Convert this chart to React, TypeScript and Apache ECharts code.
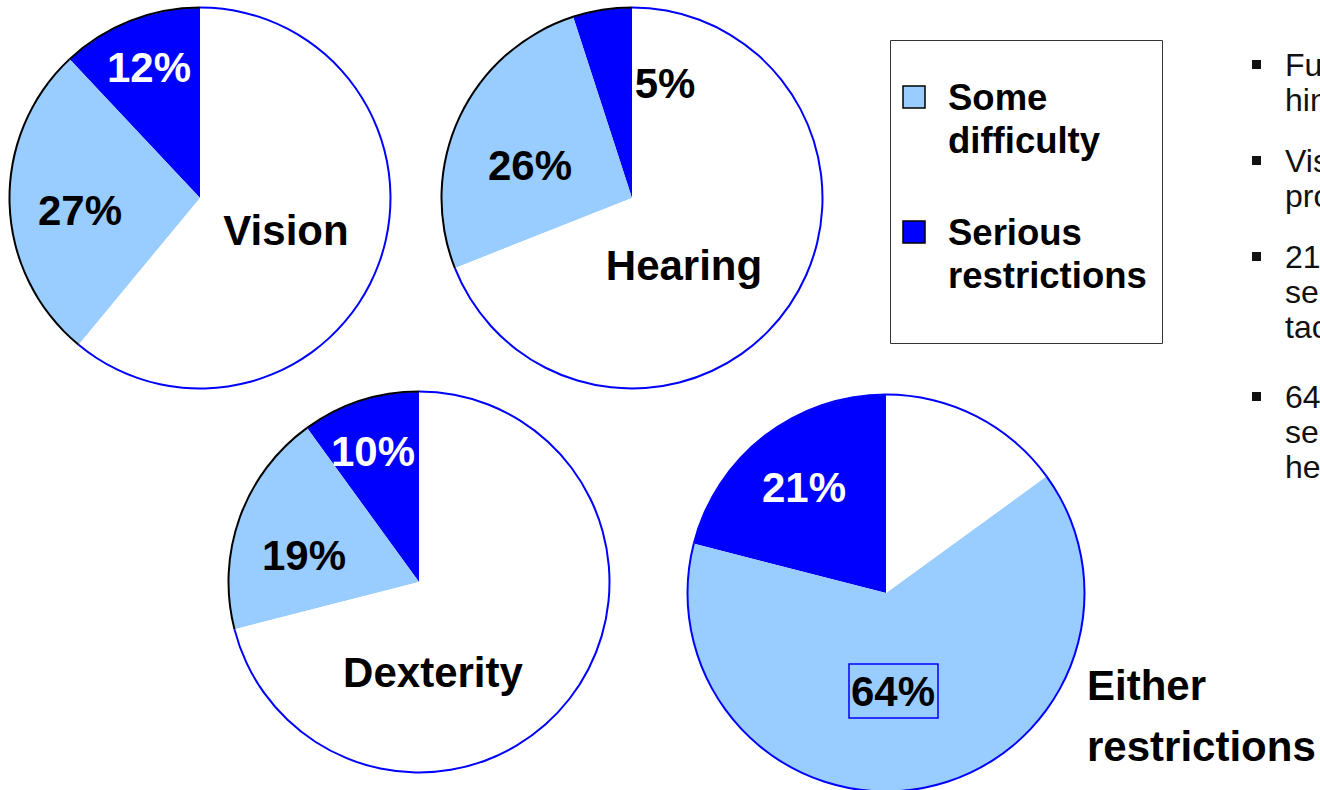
import React, { useEffect, useRef } from "react";
import * as echarts from "echarts";

// ---- data ----
const categories = ["Serious restrictions", "Some difficulty", "No difficulty"];
const pieTitles = ["Vision", "Hearing", "Dexterity", "Either restrictions"];
const seriousValues = [12, 5, 10, 21];
const someValues = [27, 26, 19, 64];
const noneValues = [61, 69, 71, 15];
const legendLabels = [
  ["Some", "difficulty"],
  ["Serious", "restrictions"],
];
const sideTextLines = ["Fu", "hin", "Vis", "pro", "21%", "se", "tac", "64%", "se", "he"];
const sideBulletLines = [0, 2, 4, 7];

// ---- styles / layout ----
const LIGHT = "#99CCFF";
const DARK = "#0000FF";
const FONT = "'Liberation Sans', Arial, Helvetica, sans-serif";
const sliceColors = [DARK, LIGHT, "#FFFFFF"];

const layouts = [
  {
    cx: 200, cy: 198, r: 190,
    rim: ["#000000", "#000000", DARK],
    serious: { x: 149, y: 67, color: "#FFFFFF" },
    some: { x: 80, y: 210, color: "#000000" },
    title: { x: 286, y: 230, align: "center" },
  },
  {
    cx: 632, cy: 198, r: 190,
    rim: ["#000000", "#000000", DARK],
    serious: { x: 665, y: 83, color: "#000000" },
    some: { x: 530, y: 165, color: "#000000" },
    title: { x: 684, y: 265, align: "center" },
  },
  {
    cx: 419, cy: 582, r: 190,
    rim: ["#000000", "#000000", DARK],
    serious: { x: 373, y: 451, color: "#FFFFFF" },
    some: { x: 304, y: 555, color: "#000000" },
    title: { x: 433, y: 672, align: "center" },
  },
  {
    cx: 886, cy: 593, r: 198,
    rim: [DARK, DARK, DARK],
    serious: { x: 804, y: 487, color: "#FFFFFF" },
    some: { x: 893, y: 691, color: "#000000", box: true },
    title: { x: 1087, y: 685, align: "left", lineGap: 61 },
  },
];

function buildOption() {
  const series: any[] = [];
  const graphic: any[] = [];

  layouts.forEach((L, i) => {
    const vals = [seriousValues[i], someValues[i], noneValues[i]];
    series.push({
      type: "pie",
      center: [L.cx, L.cy],
      radius: [0, L.r],
      startAngle: 90,
      clockwise: false,
      silent: true,
      label: { show: false },
      labelLine: { show: false },
      emphasis: { disabled: true },
      itemStyle: { borderWidth: 0 },
      data: vals.map((v, k) => ({
        value: v,
        name: categories[k],
        itemStyle: { color: sliceColors[k] },
      })),
      z: 2,
    });
    // outer rim
    series.push({
      type: "pie",
      center: [L.cx, L.cy],
      radius: [L.r - 0.5, L.r + 1.5],
      startAngle: 90,
      clockwise: false,
      silent: true,
      label: { show: false },
      labelLine: { show: false },
      emphasis: { disabled: true },
      itemStyle: { borderWidth: 0 },
      data: vals.map((v, k) => ({
        value: v,
        name: categories[k] + " rim",
        itemStyle: { color: L.rim[k] },
      })),
      z: 3,
    });

    const pctFont = `bold 42px ${FONT}`;
    graphic.push({
      type: "text",
      z: 10,
      style: {
        text: `${seriousValues[i]}%`,
        x: L.serious.x,
        y: L.serious.y,
        font: pctFont,
        fill: L.serious.color,
        textAlign: "center",
        textVerticalAlign: "middle",
      },
    });
    graphic.push({
      type: "text",
      z: 10,
      style: {
        text: `${someValues[i]}%`,
        x: L.some.x,
        y: L.some.y,
        font: pctFont,
        fill: L.some.color,
        textAlign: "center",
        textVerticalAlign: "middle",
      },
    });
    if ((L.some as any).box) {
      graphic.push({
        type: "rect",
        z: 10,
        shape: { x: L.some.x - 44, y: L.some.y - 27, width: 89, height: 54 },
        style: { fill: "none", stroke: DARK, lineWidth: 1.5 },
      });
    }
    const titleParts =
      (L.title as any).lineGap ? pieTitles[i].split(" ") : [pieTitles[i]];
    titleParts.forEach((t, j) => {
      graphic.push({
        type: "text",
        z: 10,
        style: {
          text: t,
          x: L.title.x,
          y: L.title.y + j * ((L.title as any).lineGap || 0),
          font: pctFont,
          fill: "#000000",
          textAlign: L.title.align,
          textVerticalAlign: "middle",
        },
      });
    });
  });

  // legend box
  graphic.push({
    type: "rect",
    z: 5,
    shape: { x: 890.5, y: 40.5, width: 272, height: 303 },
    style: { fill: "#FFFFFF", stroke: "#333333", lineWidth: 1 },
  });
  const legendColors = [LIGHT, DARK];
  const legendY = [97, 232];
  legendLabels.forEach((lines, k) => {
    graphic.push({
      type: "rect",
      z: 6,
      shape: { x: 903, y: legendY[k] - 11, width: 22, height: 22 },
      style: { fill: legendColors[k], stroke: "#000000", lineWidth: 1.5 },
    });
    lines.forEach((t, j) => {
      graphic.push({
        type: "text",
        z: 6,
        style: {
          text: t,
          x: 948,
          y: legendY[k] + j * 43,
          font: `bold 36.5px ${FONT}`,
          fill: "#000000",
          textAlign: "left",
          textVerticalAlign: "middle",
        },
      });
    });
  });

  // side text (clipped at right edge, as in the reference)
  const sideY = [65, 100, 161, 196, 257, 292, 327, 397, 432, 467];
  sideTextLines.forEach((t, j) => {
    graphic.push({
      type: "text",
      z: 6,
      style: {
        text: t,
        x: 1285,
        y: sideY[j],
        font: `32px ${FONT}`,
        fill: "#111111",
        textAlign: "left",
        textVerticalAlign: "middle",
      },
    });
  });
  sideBulletLines.forEach((j) => {
    graphic.push({
      type: "rect",
      z: 6,
      shape: { x: 1252, y: sideY[j] - 5, width: 9, height: 9 },
      style: { fill: "#111111" },
    });
  });

  return {
    animation: false,
    backgroundColor: "#FFFFFF",
    series,
    graphic,
  };
}

export default function App() {
  const ref = useRef<HTMLDivElement>(null);
  useEffect(() => {
    if (!ref.current) return;
    const chart = echarts.init(ref.current, undefined, { renderer: "svg" });
    chart.setOption(buildOption() as any);
    return () => chart.dispose();
  }, []);
  return (
    <div
      ref={ref}
      style={{
        position: "fixed",
        left: 0,
        top: 0,
        width: 1320,
        height: 790,
        overflow: "hidden",
        background: "#fff",
      }}
    />
  );
}
